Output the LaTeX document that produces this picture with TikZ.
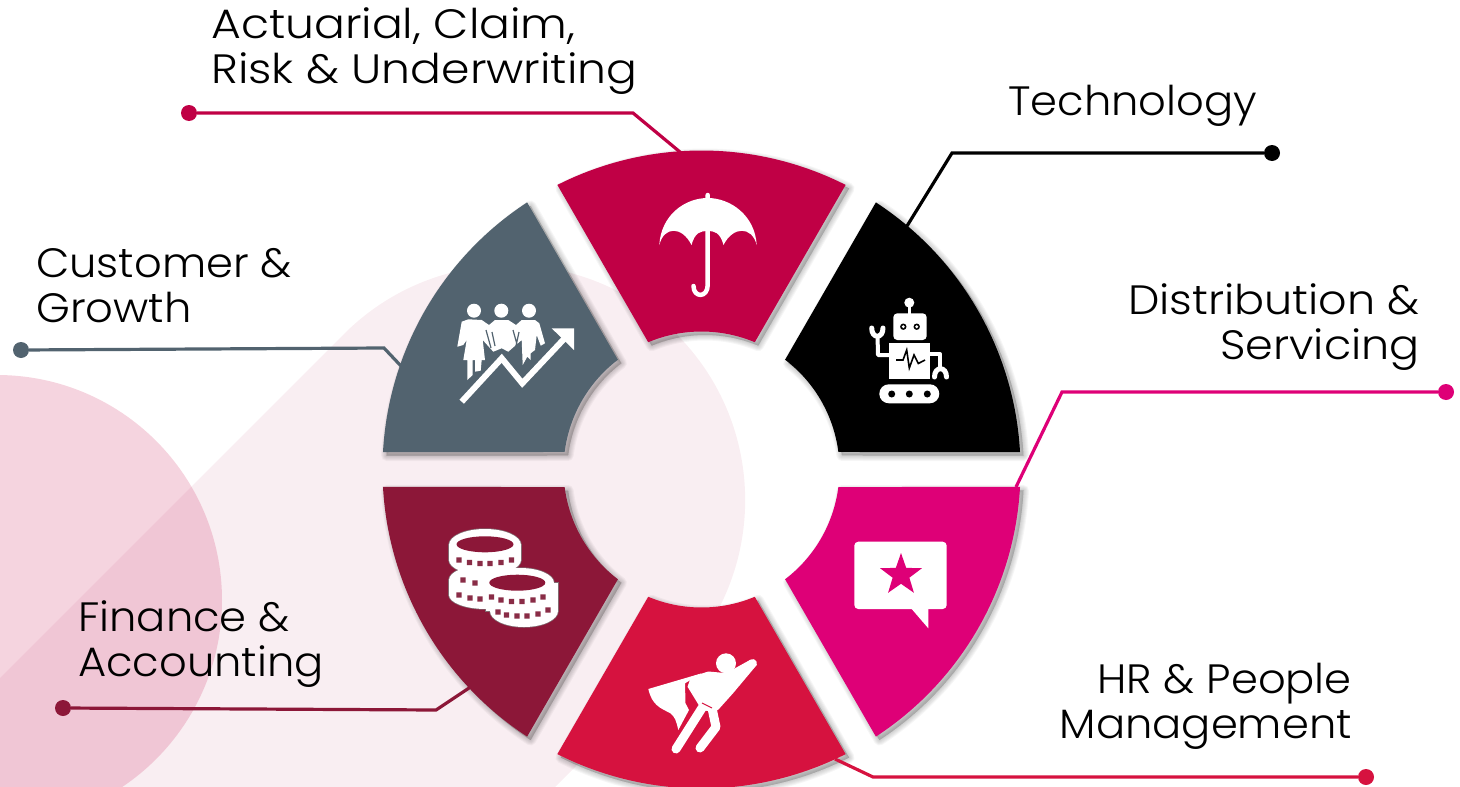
\documentclass[tikz,border=0pt]{standalone}
\usepackage{fontspec}
\setmainfont[FakeStretch=1.055]{Poppins Light}
\newfontfamily\fontwide[FakeStretch=1.115]{Poppins Light}
\newfontfamily\fontmid[FakeStretch=1.085]{Poppins Light}
\usetikzlibrary{shapes.geometric}
\definecolor{cBand}{HTML}{F9EEF2}
\definecolor{cBlob}{HTML}{D9527F}
\definecolor{cTop}{HTML}{C00045}
\definecolor{cSlate}{HTML}{52636F}
\definecolor{cMaroon}{HTML}{8C1738}
\definecolor{cCrim}{HTML}{D6123F}
\definecolor{cMag}{HTML}{DE0077}
\tikzset{
  dotend/.style={circle,inner sep=0pt,minimum size=16pt},
  lead/.style={line width=3.2pt,line join=miter},
  lab/.style={font=\fontsize{41}{44.5}\selectfont,inner sep=0pt,text=black},
  ico/.style={fill=white,draw=none},
  thick line/.style={draw=white,line cap=round,line join=round}
}
% ring segment: #1 first boundary angle, #2 colour
\newcommand{\ringpath}[1]{%
  (#1+3.14:319) arc[start angle=#1+3.14,end angle=#1+56.86,radius=319]
  -- (#1+52.71:138) arc[start angle=#1+52.71,end angle=#1+7.29,radius=138] -- cycle}
\newcommand{\ringseg}[2]{%
  \foreach \w in {11,9,7,5,3,1}{
    \fill[black,opacity=.035,shift={(3.5pt,-3.5pt)},draw=black,line width=\w pt,line join=round] \ringpath{#1};}
  \fill[#2] \ringpath{#1};}
\begin{document}
\begin{tikzpicture}[x=1pt,y=-1pt]
\useasboundingbox (0,0) rectangle (1460,787);
\begin{scope}
\clip (0,0) rectangle (1460,787);
% background band and disc
\fill[cBand] (-100,778) -- (344,334) arc[start angle=225,end angle=405,radius=235] -- (555,787) -- (-100,787) -- cycle;
\fill[cBlob,opacity=.25] (-3,600) circle[radius=225];
\end{scope}
% ring
\begin{scope}[shift={(701.5,469.5)},y=1pt]
\ringseg{60}{cTop}
\ringseg{120}{cSlate}
\ringseg{180}{cMaroon}
\ringseg{240}{cCrim}
\ringseg{300}{cMag}
\ringseg{0}{black}
\end{scope}
% connectors
\node[dotend,fill=cTop] (d1) at (189,113) {};
\coordinate (b1) at (633,113); \coordinate (s1) at (680,152);
\draw[lead,cTop] (d1) -- (b1) -- (s1);
\node[dotend,fill=black] (d2) at (1272,153) {};
\coordinate (b2) at (952,153); \coordinate (s2) at (907,226);
\draw[lead,black] (d2) -- (b2) -- (s2);
\node[dotend,fill=cMag] (d3) at (1446,392) {};
\coordinate (b3) at (1062,392); \coordinate (s3) at (1016,487);
\draw[lead,cMag] (d3) -- (b3) -- (s3);
\node[dotend,fill=cCrim] (d4) at (1366,777) {};
\coordinate (b4) at (873,777); \coordinate (s4) at (835,759);
\draw[lead,cCrim] (d4) -- (b4) -- (s4);
\node[dotend,fill=cMaroon] (d5) at (63,708) {};
\coordinate (b5) at (436,710); \coordinate (s5) at (472,686);
\draw[lead,cMaroon] (d5) -- (b5) -- (s5);
\node[dotend,fill=cSlate] (d6) at (21,350) {};
\coordinate (b6) at (384,348); \coordinate (s6) at (401,366);
\draw[lead,cSlate] (d6) -- (b6) -- (s6);
% labels
\node[lab,align=left,anchor=base west] (t1) at (211,83) {\fontwide Actuarial, Claim,\\\fontwide Risk \& Underwriting};
\node[lab,anchor=base west] (t2) at (1008,115) {Technology};
\node[lab,align=right,anchor=base east] (t3) at (1420,359) {\fontmid Distribution \&\\\fontmid Servicing};
\node[lab,align=left,anchor=base west] (t4) at (36,322) {Customer \&\\Growth};
\node[lab,align=left,anchor=base west] (t5) at (78,676) {Finance \&\\Accounting};
\node[lab,align=right,anchor=base east] (t6) at (1352,738) {HR \& People\\Management};
% umbrella
\fill[ico] (659.3,245) .. controls (661,215) and (685,198) .. (707.7,198) .. controls (730,198) and (755,215) .. (756.7,245)
  .. controls (752,226) and (733,226) .. (723.5,245) .. controls (720,232) and (714,231) .. (707.7,231)
  .. controls (701,231) and (695,232) .. (691.5,245) .. controls (682,226) and (664,226) .. (659.3,245) -- cycle;
\draw[thick line,line width=4.5pt] (707.7,195) -- (707.7,285) .. controls (707.7,298) and (693.5,298) .. (693.5,286);
% robot
\fill[ico] (909.3,302.7) circle[radius=5];
\draw[thick line,line width=3pt] (909.3,303) -- (909.3,315);
\fill[ico,rounded corners=4pt] (893.3,313.3) rectangle (926.7,340);
\fill[black] (903.3,326.7) circle[radius=3.2] (916.7,326.7) circle[radius=3.2];
\fill[white] (903.3,326.7) circle[radius=1.6] (916.7,326.7) circle[radius=1.6];
\fill[ico] (889.3,343.3) rectangle (930,379.3);
\draw[black,line width=1.6pt,line join=miter] (896,360) -- (903,360) -- (906.7,350) -- (909.3,368) -- (914,355) -- (918.3,363.5) -- (925,360);
\draw[white,line width=4pt,line join=round] (889,355) -- (878,355) -- (877.5,335);
\draw[white,line width=4pt,line join=round] (930,354) -- (940,354) -- (940,370);
\draw[white,line width=5pt,line cap=round] (871.7,328) .. controls (871.7,339) and (883,339) .. (883,328);
\draw[white,line width=5pt,line cap=round] (934.5,377) .. controls (934.5,366) and (946.5,366) .. (946.5,377);
\fill[ico,rounded corners=9.5pt] (879.3,384.3) rectangle (939.3,403.3);
\fill[black] (891.7,394) circle[radius=3.5] (909.3,394) circle[radius=3.5] (927.3,394) circle[radius=3.5];
% people and arrow
\fill[ico] (474,310.7) circle[radius=7] (501.3,310.7) circle[radius=7] (529,310.7) circle[radius=7];
\fill[ico,line join=round] (457.3,346.7) -- (461.7,321.7) -- (468.3,319.3) -- (481.7,320) -- (489,325) -- (495,320) -- (508.3,320) -- (516,325) -- (521.7,320) -- (535,320) -- (539.3,323.3) -- (545,343.3) -- (540.7,345.7) -- (536.7,335) -- (535,350) -- (530.7,353.3) -- (530.7,360) -- (527.3,356.7) -- (522.7,365) -- (521.7,340) -- (508.3,351.7) -- (501.7,348.3) -- (493.3,351.7) -- (482.7,340) -- (485,360) -- (481.7,360) -- (480.7,370.7) -- (475,371.7) -- (475,360) -- (472.7,360) -- (472.7,375) -- (467.3,380) -- (467.3,360) -- (463.3,360) -- (466.7,340) -- (463.3,345) -- cycle;
\draw[cSlate,line width=1.2pt] (486,330) -- (491,348) (492,332) -- (495,346) (513,330) -- (518,348) (519,332) -- (516,346);
\draw[cSlate,line width=8pt,line join=miter] (461.7,401.7) -- (501.7,358.3) -- (522.3,383.3) -- (568.3,335);
\draw[white,line width=6pt,line join=miter] (461.7,401.7) -- (501.7,358.3) -- (522.3,383.3) -- (564,339);
\fill[ico] (551.7,328.3) -- (574,328.3) -- (574,350) -- cycle;
% coins
\newcommand{\coinblob}[1]{%
  \path[#1] (485,545) ellipse[x radius=36,y radius=16];
  \path[#1] (449,545) rectangle (521,560);
  \path[#1] (485,560) ellipse[x radius=36,y radius=15];
  \path[#1] (486,580) ellipse[x radius=37,y radius=15];
  \path[#1] (449,580) rectangle (523,595);
  \path[#1] (486,595) ellipse[x radius=37,y radius=14];
  \path[#1] (520,583) ellipse[x radius=34,y radius=15];
  \path[#1] (486,583) rectangle (558,611);
  \path[#1] (524,611) ellipse[x radius=34,y radius=16];
}
\coinblob{draw=gray!80!cMaroon,line width=1.5pt}
\coinblob{fill=white}
\fill[cMaroon] (485,544.3) ellipse[x radius=28.5,y radius=8];
\fill[cMaroon] (517.3,582.7) ellipse[x radius=28,y radius=8];
\fill[cMaroon!80!gray]
  \foreach \x/\y in {459/560,469.5/562.5,480/563.5,490/563.5,501/562.5,511.5/560,
                     463/580,475/583,459/595,470/598,480/599,
                     491.5/597,501/600,511.5/601.5,522/601.5,533/600,543/597,
                     498/612,506.5/615,517/616,527/616,538/614,548/610}
   {(\x-2.7,\y-2.7) rectangle (\x+2.7,\y+2.7)};
% superhero
\fill[ico] (726,663.3) circle[radius=10];
\fill[ico] (648.3,689) -- (701.7,673.3) -- (685,683.3) -- (685.5,703.3) -- (689,710) -- (678.3,730) .. controls (676,720) and (675,717) .. (670,713) .. controls (660,708) and (652,705) .. (648.3,689) -- cycle;
\fill[ico] (691,677) -- (708.3,671.5) -- (728.3,673.3) -- (733.3,673.3) -- (750,660) -- (756.7,665) -- (733,693.3) -- (718,710) -- (708,711) -- (701.7,710) -- (696.7,701.7) -- (687.5,686.7) -- cycle;
\draw[thick line,line width=8.5pt] (728,677) -- (752.7,663.3);
\draw[thick line,line width=9pt] (702,708) -- (676,749);
\draw[thick line,line width=9pt,line join=round] (712,708) -- (716,727) -- (700,748);
\draw[cCrim,line width=1pt] (702,703) -- (712,708);
% speech bubble with star
\fill[ico,rounded corners=4pt] (854.3,541.7) rectangle (946.7,609);
\fill[ico] (910,607) -- (928.3,628.3) -- (928.3,607) -- cycle;
\node[star,star points=5,star point ratio=2.5,fill=cMag,minimum size=44pt,inner sep=0pt] (st) at (901,575) {};
\end{tikzpicture}
\end{document}
